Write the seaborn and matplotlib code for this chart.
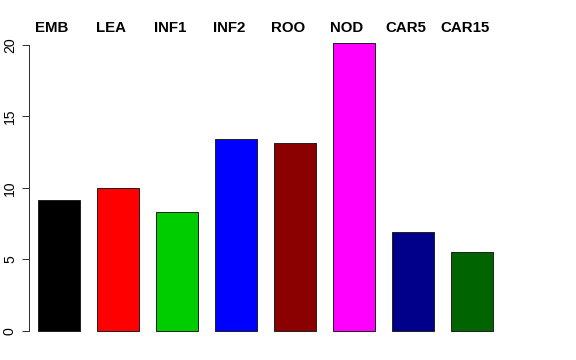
import matplotlib
matplotlib.use("Agg")
import matplotlib.pyplot as plt
import matplotlib.transforms as mtransforms
import seaborn as sns
import pandas as pd

categories = ["EMB", "LEA", "INF1", "INF2", "ROO", "NOD", "CAR5", "CAR15"]
values = [9.15, 9.97, 8.33, 13.43, 13.15, 20.15, 6.93, 5.55]
colors = ["#000000", "#FF0000", "#00CD00", "#0000FF", "#8B0000", "#FF00FF", "#00008B", "#006400"]

sns.set_style("white")
plt.rcParams["font.family"] = ["Liberation Sans", "DejaVu Sans"]
plt.rcParams["text.color"] = "black"
plt.rcParams["ytick.color"] = "black"

df = pd.DataFrame({"cat": categories, "val": values})

fig = plt.figure(figsize=(8, 5), dpi=72)
ax = fig.add_axes([29 / 576, 1 - 342.5 / 360, (531 - 29) / 576, (342.5 - 31.4) / 360])

sns.barplot(data=df, x="cat", y="val", hue="cat", palette=colors, legend=False,
            width=0.71, edgecolor="#222222", linewidth=1.0, saturation=1, ax=ax)

ax.set_xlim(-0.51, 8.0)
ax.set_ylim(-0.806, 20.95)
ax.set_xlabel("")
ax.set_ylabel("")
ax.set_xticks([])

for s in ["top", "right", "bottom"]:
    ax.spines[s].set_visible(False)
ax.spines["left"].set_bounds(0, 20)
ax.spines["left"].set_color("#333333")
ax.spines["left"].set_linewidth(1.0)

ax.set_yticks([0, 5, 10, 15, 20])
ax.set_yticklabels(["0", "5", "10", "15", "20"], rotation=90, va="center", fontsize=14)
ax.tick_params(axis="y", direction="out", length=7, width=1.0, color="#333333",
               labelcolor="black", pad=5, left=True)

# group labels sit above the plot, nudged a little left of each bar
trans = mtransforms.blended_transform_factory(ax.transData, fig.transFigure)
for i, c in enumerate(categories):
    ax.text(i - 0.12, 1 - 28 / 360, c, transform=trans, ha="center", va="center",
            fontsize=15, fontweight="bold", color="black")

fig.savefig("out.png", dpi=72)
